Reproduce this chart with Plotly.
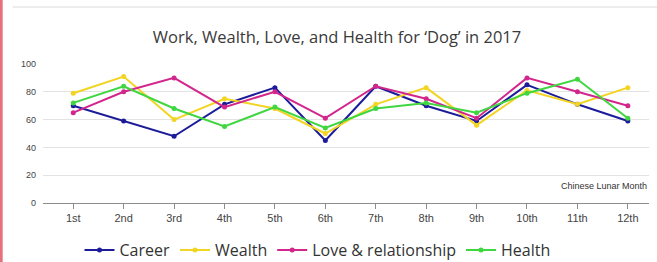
import plotly.graph_objects as go

months = ["1st", "2nd", "3rd", "4th", "5th", "6th", "7th", "8th", "9th", "10th", "11th", "12th"]
career = [70, 59, 48, 71, 83, 45, 84, 70, 59, 85, 71, 59]
wealth = [79, 91, 60, 75, 68, 50, 71, 83, 56, 81, 71, 83]
love = [65, 80, 90, 69, 80, 61, 84, 75, 61, 90, 80, 70]
health = [72, 84, 68, 55, 69, 54, 68, 72, 65, 79, 89, 61]

series = [
    ("Career", career, "#1c1c9a"),
    ("Wealth", wealth, "#f2d422"),
    ("Love & relationship", love, "#d3268c"),
    ("Health", health, "#3fd63f"),
]

fig = go.Figure()
for name, vals, col in series:
    fig.add_trace(go.Scatter(
        x=months, y=vals, name=name, mode="lines+markers",
        line=dict(color=col, width=2), marker=dict(color=col, size=5),
    ))

fig.update_layout(
    width=657, height=262,
    margin=dict(l=43, r=8, t=64, b=59, autoexpand=False),
    paper_bgcolor="white", plot_bgcolor="white",
    title=dict(text="Work, Wealth, Love, and Health for \u2018Dog\u2019 in 2017",
               x=0.513, xanchor="center", y=0.858, yanchor="middle",
               font=dict(family="Open Sans", size=16.5, color="#3a3a3a")),
    showlegend=True,
    legend=dict(orientation="h", x=0.453, xanchor="center", y=-0.338, yanchor="middle",
                font=dict(family="Open Sans", size=16, color="#333333"),
                itemwidth=30, tracegroupgap=0, bgcolor="rgba(0,0,0,0)"),
    xaxis=dict(type="category", range=[-0.6, 11.42], showgrid=False,
               showline=True, linecolor="#8c8c8c", linewidth=1,
               ticks="outside", ticklen=5, tickcolor="#8c8c8c",
               tickfont=dict(family="Liberation Sans", size=11, color="#444444"),
               fixedrange=True),
    yaxis=dict(range=[0, 100], tickvals=[0, 20, 40, 60, 80, 100], showgrid=True,
               gridcolor="#e3e3e3", gridwidth=1, zeroline=False, showline=False,
               ticks="", ticklabelstandoff=6,
               tickfont=dict(family="Liberation Sans", size=9, color="#444444"),
               fixedrange=True),
    annotations=[dict(text="Chinese Lunar Month", xref="paper", yref="paper",
                      x=1.0, y=0.12, xanchor="right", yanchor="middle", showarrow=False,
                      font=dict(family="Liberation Sans", size=9, color="#333333"))],
    shapes=[
        dict(type="line", xref="paper", yref="paper", x0=-0.069, x1=-0.069, y0=-0.5, y1=1.6,
             line=dict(color="#e8707a", width=3)),
        dict(type="line", xref="paper", yref="paper", x0=-0.05, x1=1.02, y0=1.41, y1=1.41,
             line=dict(color="#e6e6e6", width=1.5)),
    ],
)

fig.write_html("out.html", config={"displayModeBar": False},
               post_script="document.body.style.margin='0';")
